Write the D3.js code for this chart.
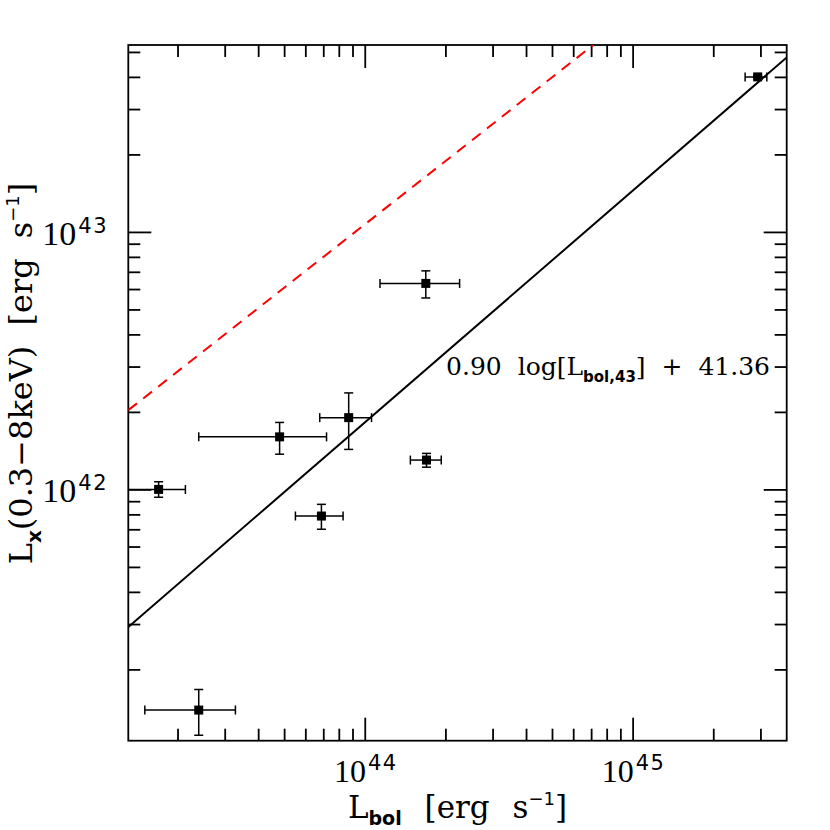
<!DOCTYPE html>
<html>
<head>
<meta charset="utf-8">
<script src="https://cdn.jsdelivr.net/npm/d3@7"></script>
<style>
  body { margin: 0; background: #fff; }
  svg { display: block; }
</style>
</head>
<body>
<svg id="chart" width="830" height="830"></svg>
<script>
// bolometric luminosity [erg/s] with error range
const lbol   = [2.40e43, 1.70e43, 4.81e43, 8.71e43, 6.89e43, 1.70e44, 1.69e44, 2.93e45];
const lbolLo = [1.51e43, 1.25e43, 2.40e43, 6.79e43, 5.51e43, 1.48e44, 1.14e44, 2.63e45];
const lbolHi = [3.29e43, 2.14e43, 7.20e43, 1.06e44, 8.30e43, 1.93e44, 2.26e44, 3.17e45];
// 0.3-8 keV X-ray luminosity [erg/s] with error range
const lx   = [1.39e41, 1.00e42, 1.60e42, 1.90e42, 7.88e41, 1.30e42, 6.31e42, 4.00e43];
const lxLo = [1.11e41, 0.933e42, 1.37e42, 1.43e42, 7.01e41, 1.22e42, 5.54e42, 3.94e43];
const lxHi = [1.67e41, 1.07e42, 1.82e42, 2.37e42, 8.75e41, 1.38e42, 7.06e42, 4.06e43];

// log Lx = slope * log(Lbol / 1e43) + intercept
const fitSlope = 0.90, fitIntercept = 41.36;
const refSlope = 0.817, refIntercept = 42.212;

const xDomain = [1.31e43, 3.76e45];
const yDomain = [1.057e41, 5.32e43];
const fitLabel = ['0.90', 'log[L', 'bol,43', ']', '+', '41.36'];

const svg = d3.select('#chart');
const m = {left: 128.3, top: 45, right: 786.7, bottom: 740.7};

const x = d3.scaleLog().domain(xDomain).range([m.left, m.right]);
const y = d3.scaleLog().domain(yDomain).range([m.bottom, m.top]);

const isMajor = (d) => Math.abs(Math.log10(d) - Math.round(Math.log10(d))) < 1e-6;

svg.append('defs').append('clipPath').attr('id', 'plotclip')
  .append('rect')
  .attr('x', m.left).attr('y', m.top)
  .attr('width', m.right - m.left).attr('height', m.bottom - m.top);

// axes on four sides, ticks pointing inward
function drawAxis(axis, tx, ty, attr, sign) {
  const g = svg.append('g')
    .attr('transform', `translate(${tx},${ty})`)
    .call(axis.tickSizeOuter(0).tickSizeInner(-12).tickFormat(''));
  g.select('.domain').remove();
  g.selectAll('.tick line')
    .attr(attr, (d) => sign * (isMajor(d) ? 23 : 12))
    .attr('stroke', '#000')
    .attr('stroke-width', 1.8);
}
drawAxis(d3.axisBottom(x).tickValues(x.ticks()), 0, m.bottom, 'y2', -1);
drawAxis(d3.axisTop(x).tickValues(x.ticks()), 0, m.top, 'y2', 1);
drawAxis(d3.axisLeft(y).tickValues(y.ticks()), m.left, 0, 'x2', 1);
drawAxis(d3.axisRight(y).tickValues(y.ticks()), m.right, 0, 'x2', -1);

svg.append('rect')
  .attr('x', m.left).attr('y', m.top)
  .attr('width', m.right - m.left).attr('height', m.bottom - m.top)
  .attr('fill', 'none').attr('stroke', '#000').attr('stroke-width', 1.8);

// tick labels 10^n
const serif = '"Liberation Serif", "DejaVu Serif", serif';
const serifWide = '"DejaVu Serif", serif';
const sans = '"DejaVu Sans", sans-serif';

function powerLabel(sel) {
  sel.append('tspan').text('10');
  sel.append('tspan')
    .attr('dy', -12).attr('dx', 2)
    .attr('font-family', sans).attr('font-size', 21)
    .attr('letter-spacing', 1.5)
    .text((d) => Math.round(Math.log10(d)));
}

svg.append('g').selectAll('text')
  .data(x.ticks().filter(isMajor))
  .enter().append('text')
  .attr('x', (d) => x(d) + 1)
  .attr('y', 781.5)
  .attr('text-anchor', 'middle')
  .attr('font-family', serif).attr('font-size', 32)
  .call(powerLabel);

svg.append('g').selectAll('text')
  .data(y.ticks().filter(isMajor))
  .enter().append('text')
  .attr('x', 108)
  .attr('y', (d) => y(d) + 13)
  .attr('text-anchor', 'end')
  .attr('font-family', serif).attr('font-size', 34)
  .call(powerLabel);

// lines
const plot = svg.append('g').attr('clip-path', 'url(#plotclip)');
const lineX = [xDomain[0], xDomain[1]];
const line = d3.line().x((d) => x(d[0])).y((d) => y(d[1]));

plot.append('path')
  .datum(lineX.map((v) => [v, Math.pow(10, refSlope * Math.log10(v / 1e43) + refIntercept)]))
  .attr('d', line)
  .attr('fill', 'none').attr('stroke', '#ff0000')
  .attr('stroke-width', 2).attr('stroke-dasharray', '11,8');

plot.append('path')
  .datum(lineX.map((v) => [v, Math.pow(10, fitSlope * Math.log10(v / 1e43) + fitIntercept)]))
  .attr('d', line)
  .attr('fill', 'none').attr('stroke', '#000')
  .attr('stroke-width', 2);

// error bars and points
const pts = lbol.map((v, i) => ({x: v, xl: lbolLo[i], xh: lbolHi[i], y: lx[i], yl: lxLo[i], yh: lxHi[i]}));
const cap = 4.5;
const eb = plot.append('g').attr('stroke', '#000').attr('stroke-width', 1.5);
for (const p of pts) {
  const cx = x(p.x), cy = y(p.y);
  eb.append('line').attr('x1', x(p.xl)).attr('x2', x(p.xh)).attr('y1', cy).attr('y2', cy);
  eb.append('line').attr('x1', x(p.xl)).attr('x2', x(p.xl)).attr('y1', cy - cap).attr('y2', cy + cap);
  eb.append('line').attr('x1', x(p.xh)).attr('x2', x(p.xh)).attr('y1', cy - cap).attr('y2', cy + cap);
  eb.append('line').attr('x1', cx).attr('x2', cx).attr('y1', y(p.yl)).attr('y2', y(p.yh));
  eb.append('line').attr('x1', cx - cap).attr('x2', cx + cap).attr('y1', y(p.yl)).attr('y2', y(p.yl));
  eb.append('line').attr('x1', cx - cap).attr('x2', cx + cap).attr('y1', y(p.yh)).attr('y2', y(p.yh));
}
plot.append('g').selectAll('rect')
  .data(pts)
  .enter().append('rect')
  .attr('x', (d) => x(d.x) - 4.5)
  .attr('y', (d) => y(d.y) - 4.5)
  .attr('width', 9).attr('height', 9)
  .attr('fill', '#000');

// fit annotation
const ann = svg.append('text')
  .attr('x', 770).attr('y', 375)
  .attr('text-anchor', 'end')
  .attr('font-family', serifWide).attr('font-size', 25)
  .attr('word-spacing', 8);
ann.append('tspan').text(`${fitLabel[0]} ${fitLabel[1]}`);
ann.append('tspan').attr('dy', 7).attr('font-family', sans).attr('font-weight', 'bold').attr('font-size', 15).text(fitLabel[2]);
ann.append('tspan').attr('dy', -7).text(`${fitLabel[3]} ${fitLabel[4]} ${fitLabel[5]}`);

// axis titles
const xt = svg.append('text')
  .attr('x', (m.left + m.right) / 2).attr('y', 817.5)
  .attr('text-anchor', 'middle')
  .attr('font-family', serifWide).attr('font-size', 31)
  .attr('word-spacing', 13);
xt.append('tspan').text('L');
xt.append('tspan').attr('dy', 7).attr('font-family', sans).attr('font-weight', 'bold').attr('font-size', 19).text('bol');
xt.append('tspan').attr('dy', -7).text(' [erg s');
xt.append('tspan').attr('dy', -13).attr('font-family', sans).attr('font-size', 18).text('\u22121');
xt.append('tspan').attr('dy', 13).text(']');

const yt = svg.append('text')
  .attr('transform', 'translate(32,373.5) rotate(-90)')
  .attr('text-anchor', 'middle')
  .attr('font-family', serifWide).attr('font-size', 32)
  .attr('word-spacing', 10);
yt.append('tspan').text('L');
yt.append('tspan').attr('dy', 9).attr('font-family', sans).attr('font-weight', 'bold').attr('font-size', 20).text('x');
yt.append('tspan').attr('dy', -9).text('(0.3\u22128keV) [erg s');
yt.append('tspan').attr('dy', -13).attr('font-family', sans).attr('font-size', 18).text('\u22121');
yt.append('tspan').attr('dy', 13).text(']');
</script>
</body>
</html>
